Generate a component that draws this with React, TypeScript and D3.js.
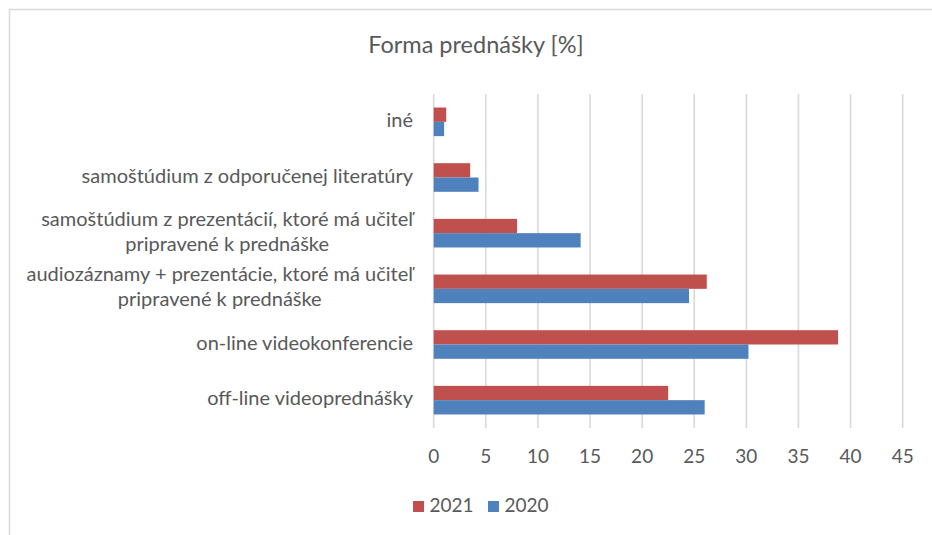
import React, { useLayoutEffect, useRef, useState } from "react";
import * as d3 from "d3";

const categories: string[][] = [
  ["iné"],
  ["samoštúdium z odporučenej literatúry"],
  ["samoštúdium z prezentácií, ktoré má učiteľ", "pripravené k prednáške"],
  ["audiozáznamy + prezentácie, ktoré má učiteľ", "pripravené k prednáške"],
  ["on-line videokonferencie"],
  ["off-line videoprednášky"],
];
const values2021 = [1.2, 3.5, 8.0, 26.2, 38.8, 22.5];
const values2020 = [1.0, 4.3, 14.1, 24.5, 30.2, 26.0];
const seriesNames = ["2021", "2020"];
const ticks = [0, 5, 10, 15, 20, 25, 30, 35, 40, 45];
const title = "Forma prednášky [%]";

const W = 932;
const H = 535;
const plotLeft = 433.7;
const plotRight = 902.7;
const plotTop = 94;
const plotBottom = 428;
const labelRight = 413;
const colors = ["#C0504D", "#4F81BD"];
const textColor = "#595959";
const font = "Lato, 'Open Sans', sans-serif";
const labelSize = 20;

export default function App() {
  const measureRef = useRef<SVGTextElement | null>(null);
  const [widths, setWidths] = useState<number[]>(categories.map(() => 0));

  useLayoutEffect(() => {
    const el = measureRef.current;
    if (!el) return;
    const ws = categories.map((lines) => {
      let m = 0;
      lines.forEach((ln) => {
        el.textContent = ln;
        m = Math.max(m, el.getComputedTextLength());
      });
      return m;
    });
    el.textContent = "";
    setWidths(ws);
  }, []);

  const x = d3.scaleLinear().domain([0, 45]).range([plotLeft, plotRight]);
  const idx = categories.map((_, i) => String(i));
  const y = d3
    .scaleBand<string>()
    .domain(idx)
    .range([plotTop, plotBottom])
    .paddingInner(0.486)
    .paddingOuter(0.243);
  const sub = d3.scaleBand<string>().domain(seriesNames).range([0, y.bandwidth()]);
  const series = [values2021, values2020];

  return (
    <svg
      width={W}
      height={H}
      style={{ position: "absolute", left: 0, top: 0, background: "#fff" }}
      fontFamily={font}
    >
      <rect x={0} y={0} width={W} height={H} fill="#fff" />
      <text ref={measureRef} x={-1000} y={-1000} fontSize={labelSize} />
      {/* chart border */}
      <path d={`M9.5,${H} V9.5 H${W}`} fill="none" stroke="#D9D9D9" strokeWidth={1.5} />
      {/* title */}
      <text x={476} y={47} textAnchor="middle" dominantBaseline="middle" fontSize={23.5} fill={textColor}>
        {title}
      </text>
      {/* gridlines */}
      {ticks.map((t) => (
        <line
          key={t}
          x1={x(t)}
          x2={x(t)}
          y1={plotTop}
          y2={plotBottom}
          stroke="#D9D9D9"
          strokeWidth={1.6}
        />
      ))}
      {/* tick labels */}
      {ticks.map((t) => (
        <text
          key={"l" + t}
          x={x(t)}
          y={458}
          textAnchor="middle"
          dominantBaseline="middle"
          fontSize={19}
          fill={textColor}
        >
          {t}
        </text>
      ))}
      {/* bars */}
      {series.map((vals, s) =>
        vals.map((v, i) => (
          <rect
            key={s + "-" + i}
            x={x(0)}
            y={(y(String(i)) as number) + (sub(seriesNames[s]) as number)}
            width={x(v) - x(0)}
            height={sub.bandwidth()}
            fill={colors[s]}
          />
        ))
      )}
      {/* category labels */}
      {categories.map((lines, i) => {
        const cy = (y(String(i)) as number) + y.bandwidth() / 2;
        const cx = labelRight - widths[i] / 2;
        return (
          <g key={"c" + i}>
            {lines.map((ln, j) => (
              <text
                key={j}
                x={cx}
                y={cy + (j - (lines.length - 1) / 2) * 25}
                textAnchor="middle"
                dominantBaseline="middle"
                fontSize={labelSize}
                fill={textColor}
              >
                {ln}
              </text>
            ))}
          </g>
        );
      })}
      {/* legend */}
      {seriesNames.map((n, s) => (
        <g key={"lg" + n} transform={`translate(${413 + s * 75},501)`}>
          <rect x={0} y={0} width={11} height={11} fill={colors[s]} />
          <text x={16.5} y={6} dominantBaseline="middle" fontSize={19} fill={textColor}>
            {n}
          </text>
        </g>
      ))}
    </svg>
  );
}
